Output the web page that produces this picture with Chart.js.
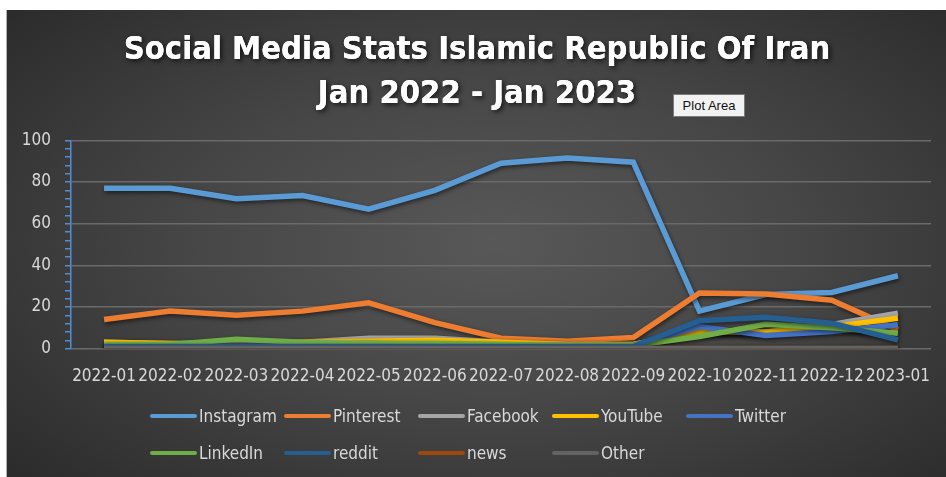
<!DOCTYPE html>
<html>
<head>
<meta charset="utf-8">
<script src="https://cdn.jsdelivr.net/npm/chart.js@4.4.0/dist/chart.umd.min.js"></script>
<style>
  html, body { margin: 0; padding: 0; background: #fff; }
  body { width: 946px; height: 477px; position: relative; overflow: hidden; }
  #panel {
    position: absolute; left: 6px; top: 10px; width: 940px; height: 467px;
    background: radial-gradient(ellipse 70% 75% at 52% 50%, #585858 0%, #474747 45%, #2b2b2b 100%);
    border-left: 1px solid #b0b0b0;
  }
  #panel canvas { position: absolute; left: 0; top: 0; }
  #tip {
    position: absolute; left: 666px; top: 84px; width: 70px; height: 21px;
    background: #f2f2f2; border: 1px solid #7a7a7a;
    font: 13px "Liberation Sans Narrow", "Liberation Sans", Arial, sans-serif;
    color: #111; line-height: 21px; text-align: center;
  }
  #legend { position: absolute; left: 143px; top: 387px; width: 700px; }
  .row { display: flex; height: 37px; align-items: center; }
  .item { width: 134px; display: flex; align-items: center; }
  .swatch { width: 47px; height: 4px; border-radius: 2px; margin-right: 2px; }
  .lbl { font: 17px "DejaVu Sans Condensed", "DejaVu Sans", sans-serif; color: #d9d9d9; white-space: nowrap; }
</style>
</head>
<body>
<div id="panel">
  <canvas id="Chart" width="940" height="467"></canvas>
  <div id="tip">Plot Area</div>
  <div id="legend"></div>
</div>
<script>
// months on the x axis
const months = ['2022-01','2022-02','2022-03','2022-04','2022-05','2022-06','2022-07',
                '2022-08','2022-09','2022-10','2022-11','2022-12','2023-01'];

// share of each platform (%)
const instagram = [77, 77, 72, 73.5, 67, 76, 89, 91.5, 89.5, 18, 26, 27, 35];
const pinterest = [14, 18, 16, 18, 22, 12.5, 5, 3.5, 5.3, 26.7, 26.2, 23.2, 9];
const facebook  = [3, 2.5, 3, 3, 5, 5, 3, 2, 2, 8, 8, 11.6, 17];
const youtube   = [3, 2.5, 2, 3, 3.5, 4, 3, 2, 2, 8, 8, 10.5, 14.6];
const twitter   = [1.5, 1.5, 1.5, 2, 2.5, 2, 1.5, 1.5, 1.5, 10.6, 6.3, 8.2, 11.5];
const linkedin  = [2, 2, 4.5, 3, 2.5, 2.5, 2, 1.5, 1.5, 5.8, 11.7, 10, 7.4];
const reddit    = [1, 1, 1, 1, 1, 1, 1, 1, 1, 13.4, 15, 12.2, 4.2];
const news      = [0, 0, 0, 0, 0, 0, 0, 0, 0, 0, 0, 0, 0];
const other     = [0, 0, 0, 0, 0, 0, 0, 0, 0, 0, 0, 0, 0];

const seriesNames  = ['Instagram','Pinterest','Facebook','YouTube','Twitter','LinkedIn','reddit','news','Other'];
const seriesValues = [instagram, pinterest, facebook, youtube, twitter, linkedin, reddit, news, other];
const seriesColors = ['#5B9BD5','#ED7D31','#A5A5A5','#FFC000','#4472C4','#70AD47','#255E91','#9E480E','#636363'];

const yTicks = [0, 20, 40, 60, 80, 100];

// soft drop shadow under each line, like the office chart style
const lineShadow = {
    id: 'lineShadow',
    beforeDatasetDraw(chart) {
        const ctx = chart.ctx;
        ctx.save();
        ctx.shadowColor = 'rgba(0,0,0,0.55)';
        ctx.shadowBlur = 4;
        ctx.shadowOffsetX = 1;
        ctx.shadowOffsetY = 2;
    },
    afterDatasetDraw(chart) {
        chart.ctx.restore();
    }
};

// dark halo behind the title text
const titleShadow = {
    id: 'titleShadow',
    beforeDraw(chart) {
        const ctx = chart.ctx;
        ctx.save();
        ctx.shadowColor = 'rgba(0,0,0,0.7)';
        ctx.shadowBlur = 5;
        ctx.shadowOffsetX = 2;
        ctx.shadowOffsetY = 2;
        chart.titleBlock.draw();
        ctx.restore();
    }
};

const datasets = seriesNames.map((name, i) => ({
    label: name,
    data: seriesValues[i],
    borderColor: seriesColors[i],
    backgroundColor: seriesColors[i],
    borderWidth: 5.5,
    pointRadius: 0,
    tension: 0,
    order: seriesNames.length - 1 - i   // later series painted on top
}));

const tickFont = { family: '"DejaVu Sans Condensed", "DejaVu Sans", sans-serif', size: 17 };

new Chart('Chart', {
    type: 'line',
    data: { labels: months, datasets: datasets },
    plugins: [lineShadow, titleShadow],
    options: {
        responsive: false,
        animation: false,
        layout: { padding: { left: 16, right: 16, top: 0, bottom: 72 } },
        plugins: {
            legend: { display: false },
            tooltip: { enabled: false },
            title: {
                display: true,
                text: ['Social Media Stats Islamic Republic Of Iran', 'Jan 2022 - Jan 2023'],
                color: '#ffffff',
                font: { family: '"DejaVu Sans Condensed", "DejaVu Sans", sans-serif', size: 32.5, weight: 'bold', lineHeight: 1.36 },
                padding: { top: 18, bottom: 24 }
            }
        },
        scales: {
            x: {
                offset: true,
                grid: { display: false, drawTicks: false },
                border: { display: false },
                ticks: { color: '#d9d9d9', font: tickFont, padding: 18, autoSkip: false, maxRotation: 0 },
                // labels sit in the band, so the axis needs no side margin
                afterFit: scale => { scale.paddingLeft = 0; scale.paddingRight = 0; }
            },
            y: {
                min: 0, max: 100,
                ticks: {
                    stepSize: 4,
                    autoSkip: false,
                    color: '#d9d9d9', font: tickFont, padding: 14,
                    callback: v => yTicks.includes(v) ? v : ''
                },
                afterFit: scale => { scale.width = 48; },
                grid: {
                    color: c => (c.tick && c.tick.value % 20 === 0) ? '#6a6a6a' : 'rgba(0,0,0,0)',
                    lineWidth: 1.5,
                    tickColor: '#4f8fcf',
                    tickLength: 6
                },
                border: { color: '#4f8fcf', width: 1.5 }
            }
        }
    }
});

// legend in fixed columns (5 per row) like the reference
const legend = document.getElementById('legend');
for (let r = 0; r < 2; r++) {
    const row = document.createElement('div');
    row.className = 'row';
    seriesNames.slice(r * 5, r * 5 + 5).forEach((name, j) => {
        const i = r * 5 + j;
        const item = document.createElement('div');
        item.className = 'item';
        item.innerHTML = '<div class="swatch" style="background:' + seriesColors[i] + '"></div><span class="lbl">' + name + '</span>';
        row.appendChild(item);
    });
    legend.appendChild(row);
}
</script>
</body>
</html>
